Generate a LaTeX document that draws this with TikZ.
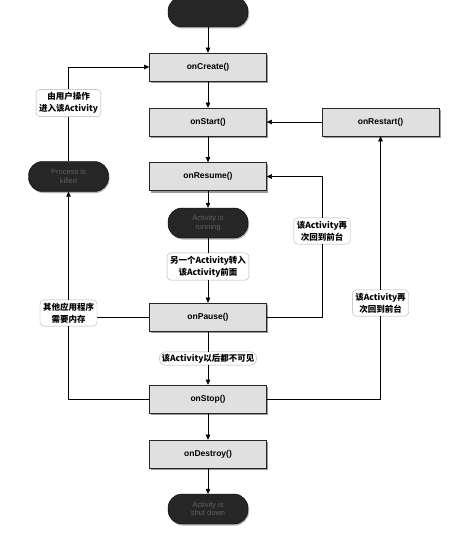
\documentclass[tikz,border=0pt]{standalone}
\usepackage{fontspec}
\setmainfont{Liberation Sans}
\newfontfamily\cjk{Noto Sans CJK SC}
\usetikzlibrary{arrows.meta,shadows}
\tikzset{
  centered/.style = { align=center, anchor=center },
    method/.style = { font=\bfseries\fontsize{8.5}{10}\selectfont, draw=black!85, semithick, fill=black!12,
                      minimum width=117pt, minimum height=28pt, centered,
                      drop shadow={opacity=0.8, shadow xshift=1.5pt, shadow yshift=-2pt} },
     state/.style = { font=\fontsize{7.5}{8.5}\selectfont, text=black!62, draw=black, fill=black!85,
                      rounded corners=14pt, minimum width=80pt, minimum height=30pt, centered,
                      drop shadow={opacity=0.6, shadow xshift=1pt, shadow yshift=-1.5pt} },
      note/.style = { font=\cjk\bfseries\fontsize{8.5}{12}\selectfont, draw=black!30, fill=white,
                      rounded corners=4pt, inner sep=3pt, centered },
      line/.style = { thin, color=black },
     arrow/.style = { line, -{Triangle[length=5pt,width=4.5pt]} },
}
\begin{document}
\begin{tikzpicture}[x=1pt,y=-1pt]
  \useasboundingbox [fill=white] (0,0) rectangle (453,540);
  % lifecycle column
  \node [state] (begin) at (208,12) {};
  \node [method] (create) at (208,67) {onCreate()};
  \node [method] (start) at (208,122) {onStart()};
  \node [method] (restart) at (380.5,122) {onRestart()};
  \node [method] (resume) at (208,176.5) {onResume()};
  \node [state] (running) at (208,223) {Activity is\\running};
  \node [method] (pause) at (208,317) {onPause()};
  \node [method] (stop) at (208,399) {onStop()};
  \node [method] (destroy) at (208,454) {onDestroy()};
  \node [state] (shutdown) at (208,509) {Activity is\\shut down};
  \node [state] (killed) at (68.5,176.5) {Process is\\killed};
  % notes on the connectors
  \node [note] (nUser) at (68.5,103) {由用户操作\\进入该Activity};
  \node [note] (nOther) at (68.5,313) {其他应用程序\\需要内存};
  \node [note] (nFront) at (208,266.5) {另一个Activity转入\\该Activity前面};
  \node [note, rounded corners=6pt, inner sep=2pt] (nHidden) at (208,358.5) {该Activity以后都不可见};
  \node [note] (nResume) at (322,231) {该Activity再\\次回到前台};
  \node [note] (nRestart) at (380.5,303) {该Activity再\\次回到前台};

  \foreach \i/\j in {begin/create,create/start,start/resume,resume/running,stop/destroy,destroy/shutdown,restart/start} {
    \draw [arrow] (\i) -- (\j);
  }
  \draw [line] (running) -- (nFront);
  \draw [arrow] (nFront) -- (pause);
  \draw [line] (pause) -- (nHidden);
  \draw [arrow] (nHidden) -- (stop);
  % way back on the left
  \draw [line] (stop.west) -| (nOther.south);
  \draw [line] (pause.west) -- (pause.west -| nOther.east);
  \draw [arrow] (nOther.north) -- (killed.south);
  \draw [line] (killed.north) -- (nUser.south);
  \draw [arrow] (nUser.north) |- (create.west);
  % way back on the right
  \draw [line] (pause.east) -| (nResume.south);
  \draw [arrow] (nResume.north) |- (resume.east);
  \draw [line] (stop.east) -| (nRestart.south);
  \draw [arrow] (nRestart.north) -- (restart.south);
\end{tikzpicture}
\end{document}
